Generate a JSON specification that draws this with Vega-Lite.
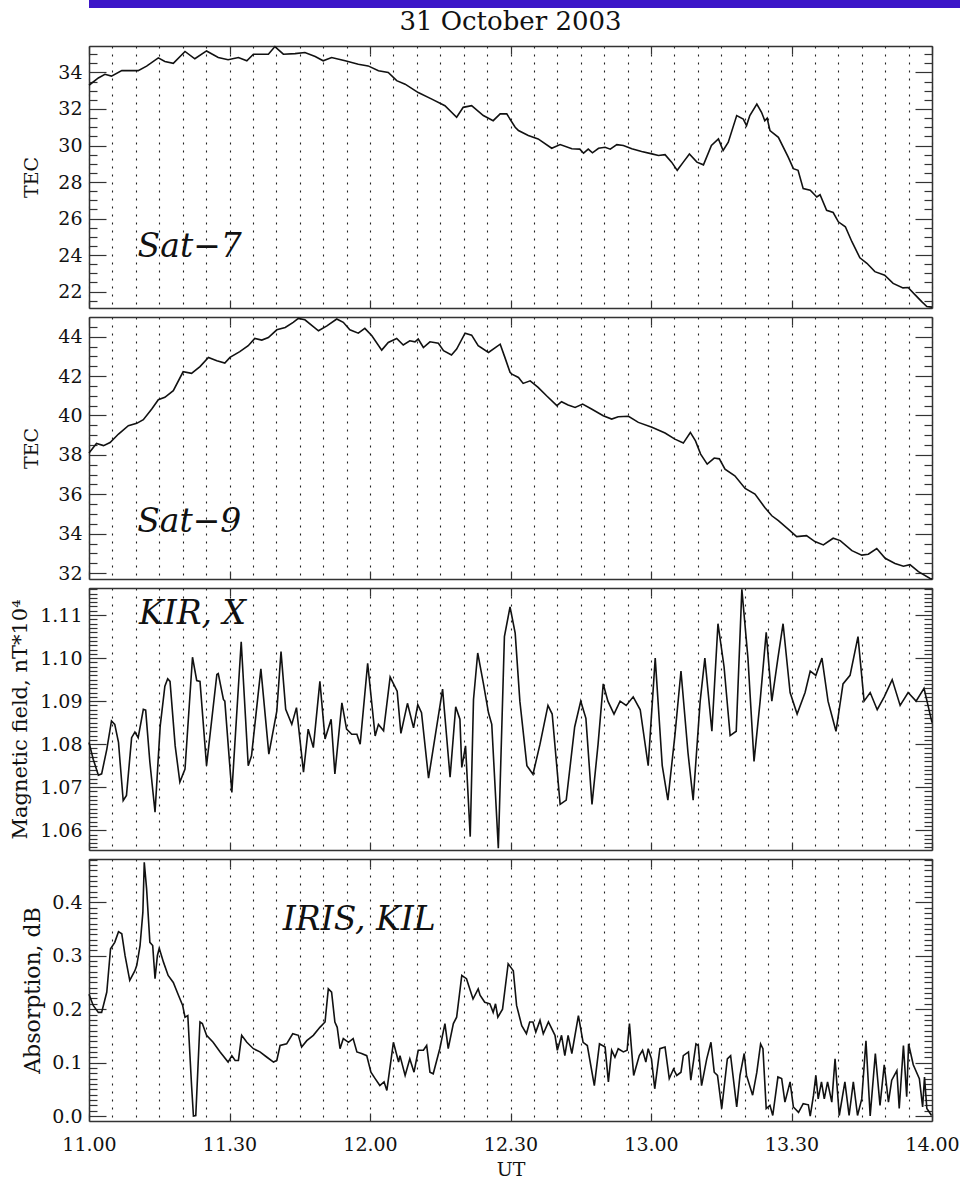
{
  "$schema": "https://vega.github.io/schema/vega-lite/v6.json",
  "padding": 0,
  "background": "white",
  "spacing": 0,
  "align": "none",
  "datasets": {
    "sat7": [
      {"t":0,"v":33.3},{"t":2,"v":33.7},{"t":3.4,"v":33.9},{"t":4.8,"v":33.8},{"t":7,"v":34.1},{"t":10.5,"v":34.1},{"t":12.3,"v":34.35},{"t":14.8,"v":34.8},{"t":16.2,"v":34.6},{"t":18,"v":34.5},{"t":20.5,"v":35.15},{"t":22.6,"v":34.75},{"t":25.1,"v":35.18},{"t":27.6,"v":34.82},{"t":29.7,"v":34.7},{"t":31.9,"v":34.82},{"t":33.7,"v":34.64},{"t":35.1,"v":35.0},{"t":38.3,"v":35.0},{"t":39.7,"v":35.42},{"t":41.5,"v":35.0},{"t":44,"v":35.03},{"t":46.1,"v":35.09},{"t":48.3,"v":34.87},{"t":50,"v":34.64},{"t":51.8,"v":34.82},{"t":54.7,"v":34.64},{"t":57.5,"v":34.45},{"t":59.6,"v":34.36},{"t":61.8,"v":34.09},{"t":63.9,"v":34.0},{"t":65.7,"v":33.55},{"t":67.5,"v":33.36},{"t":70.3,"v":32.9},{"t":73.2,"v":32.54},{"t":76,"v":32.18},{"t":78.5,"v":31.55},{"t":79.9,"v":32.09},{"t":81.7,"v":32.18},{"t":84.2,"v":31.64},{"t":86.3,"v":31.36},{"t":87.8,"v":31.73},{"t":89.2,"v":31.73},{"t":91,"v":31.0},{"t":91.7,"v":30.82},{"t":93.8,"v":30.55},{"t":95.9,"v":30.36},{"t":98.8,"v":29.85},{"t":100.6,"v":30.05},{"t":103.1,"v":29.82},{"t":104.8,"v":29.8},{"t":105.6,"v":29.58},{"t":106.6,"v":29.8},{"t":107.5,"v":29.6},{"t":108.8,"v":29.85},{"t":110.2,"v":29.9},{"t":111.3,"v":29.8},{"t":112.7,"v":30.05},{"t":114.1,"v":30.0},{"t":115.9,"v":29.82},{"t":118,"v":29.67},{"t":120.2,"v":29.54},{"t":121.6,"v":29.45},{"t":123,"v":29.5},{"t":124.4,"v":29.09},{"t":125.6,"v":28.64},{"t":126.9,"v":29.09},{"t":128.2,"v":29.54},{"t":129.8,"v":29.09},{"t":131.2,"v":28.94},{"t":132.9,"v":30.0},{"t":134.4,"v":30.36},{"t":135.4,"v":29.73},{"t":136.5,"v":30.18},{"t":138.3,"v":31.64},{"t":139.7,"v":31.45},{"t":140.4,"v":31.09},{"t":141.1,"v":31.64},{"t":142.6,"v":32.27},{"t":143.6,"v":31.82},{"t":144.3,"v":31.36},{"t":144.8,"v":31.5},{"t":145.4,"v":30.82},{"t":147.2,"v":30.45},{"t":149.3,"v":29.36},{"t":150.4,"v":28.73},{"t":151.4,"v":28.64},{"t":152.5,"v":27.64},{"t":154,"v":27.55},{"t":155.4,"v":27.18},{"t":156.1,"v":27.3},{"t":157.5,"v":26.45},{"t":158.9,"v":26.33},{"t":160,"v":25.82},{"t":161.5,"v":25.55},{"t":162.9,"v":24.73},{"t":164.6,"v":23.85},{"t":166.1,"v":23.55},{"t":167.8,"v":23.09},{"t":169.9,"v":22.9},{"t":171.7,"v":22.45},{"t":173.8,"v":22.2},{"t":174.9,"v":22.22},{"t":176.4,"v":21.82},{"t":177.8,"v":21.45},{"t":178.9,"v":21.18},{"t":180,"v":21.15}
    ],
    "sat9": [
      {"t":0,"v":38.1},{"t":1.6,"v":38.58},{"t":3.1,"v":38.47},{"t":4.5,"v":38.63},{"t":6.3,"v":39.06},{"t":8.4,"v":39.48},{"t":10.2,"v":39.6},{"t":11.6,"v":39.79},{"t":13.4,"v":40.33},{"t":14.8,"v":40.8},{"t":16.2,"v":40.92},{"t":18,"v":41.26},{"t":20.1,"v":42.22},{"t":21.9,"v":42.14},{"t":23.7,"v":42.48},{"t":25.5,"v":42.95},{"t":27.3,"v":42.78},{"t":29,"v":42.66},{"t":30.1,"v":42.95},{"t":32.2,"v":43.24},{"t":34,"v":43.54},{"t":35.4,"v":43.91},{"t":36.9,"v":43.83},{"t":38.3,"v":43.96},{"t":40.1,"v":44.35},{"t":41.9,"v":44.47},{"t":43.6,"v":44.73},{"t":44.7,"v":44.93},{"t":46.1,"v":44.86},{"t":49,"v":44.3},{"t":50.8,"v":44.55},{"t":52.9,"v":44.9},{"t":54.3,"v":44.73},{"t":55.7,"v":44.35},{"t":57.5,"v":44.18},{"t":58.9,"v":44.42},{"t":60.4,"v":44.05},{"t":62.5,"v":43.32},{"t":63.9,"v":43.71},{"t":65.7,"v":43.91},{"t":67.1,"v":43.58},{"t":68.5,"v":43.79},{"t":69.6,"v":43.74},{"t":70.3,"v":43.88},{"t":71.4,"v":43.45},{"t":72.8,"v":43.74},{"t":74.6,"v":43.67},{"t":75.7,"v":43.29},{"t":77.4,"v":43.07},{"t":78.5,"v":43.37},{"t":80.3,"v":44.18},{"t":81.7,"v":44.08},{"t":83.1,"v":43.54},{"t":85.3,"v":43.2},{"t":87.8,"v":43.62},{"t":88.8,"v":42.95},{"t":89.9,"v":42.19},{"t":90.3,"v":42.1},{"t":91.7,"v":41.93},{"t":92.7,"v":41.63},{"t":94.2,"v":41.76},{"t":95.9,"v":41.43},{"t":97.7,"v":41.0},{"t":99.9,"v":40.5},{"t":100.9,"v":40.7},{"t":102.3,"v":40.53},{"t":103.8,"v":40.41},{"t":105.4,"v":40.58},{"t":107.3,"v":40.33},{"t":109.8,"v":39.99},{"t":111.6,"v":39.82},{"t":113,"v":39.94},{"t":115.2,"v":39.96},{"t":117.3,"v":39.65},{"t":120.2,"v":39.4},{"t":123,"v":39.11},{"t":125.1,"v":38.8},{"t":126.9,"v":38.6},{"t":128.4,"v":39.14},{"t":129.5,"v":38.71},{"t":130.6,"v":38.04},{"t":132,"v":37.53},{"t":133.5,"v":37.84},{"t":134.6,"v":37.8},{"t":135.8,"v":37.28},{"t":137.9,"v":36.94},{"t":140.1,"v":36.3},{"t":142.2,"v":36.01},{"t":144.3,"v":35.33},{"t":145.8,"v":34.91},{"t":147.2,"v":34.66},{"t":149.3,"v":34.23},{"t":151.1,"v":33.85},{"t":153.2,"v":33.9},{"t":155,"v":33.6},{"t":156.8,"v":33.43},{"t":158.9,"v":33.77},{"t":160.4,"v":33.65},{"t":162.9,"v":33.14},{"t":165,"v":32.91},{"t":166.4,"v":32.96},{"t":168.2,"v":33.25},{"t":170,"v":32.75},{"t":172.1,"v":32.49},{"t":173.9,"v":32.35},{"t":175.3,"v":32.43},{"t":177.1,"v":32.07},{"t":179.6,"v":31.73},{"t":180,"v":31.7}
    ],
    "kir": [
      {"t":0,"v":1.0804},{"t":0.9,"v":1.0765},{"t":2,"v":1.0728},{"t":2.7,"v":1.0731},{"t":3.8,"v":1.0788},{"t":4.8,"v":1.0854},{"t":5.5,"v":1.0846},{"t":6.3,"v":1.0804},{"t":7.3,"v":1.0669},{"t":8,"v":1.0681},{"t":9.1,"v":1.0815},{"t":9.8,"v":1.0828},{"t":10.5,"v":1.0815},{"t":11.6,"v":1.0881},{"t":12.1,"v":1.0879},{"t":13,"v":1.0758},{"t":14.1,"v":1.0642},{"t":15.2,"v":1.0842},{"t":16.2,"v":1.0935},{"t":16.8,"v":1.0952},{"t":17.3,"v":1.0946},{"t":18.4,"v":1.0796},{"t":19.4,"v":1.0712},{"t":20.5,"v":1.0742},{"t":22.1,"v":1.1002},{"t":23,"v":1.0948},{"t":23.7,"v":1.0946},{"t":25.1,"v":1.075},{"t":27.3,"v":1.0962},{"t":27.6,"v":1.0964},{"t":28.7,"v":1.0904},{"t":29,"v":1.09},{"t":30.5,"v":1.0688},{"t":32.5,"v":1.1038},{"t":34,"v":1.075},{"t":34.7,"v":1.0773},{"t":36.7,"v":1.0975},{"t":38.4,"v":1.0777},{"t":40.1,"v":1.0877},{"t":41,"v":1.1015},{"t":42,"v":1.0881},{"t":43.3,"v":1.0846},{"t":44.3,"v":1.0885},{"t":45.8,"v":1.0735},{"t":46.8,"v":1.0835},{"t":47.9,"v":1.0792},{"t":49.3,"v":1.0946},{"t":50.4,"v":1.0812},{"t":51.7,"v":1.0858},{"t":52.5,"v":1.0731},{"t":54,"v":1.0896},{"t":55,"v":1.0835},{"t":56.1,"v":1.0823},{"t":57.2,"v":1.0823},{"t":57.9,"v":1.08},{"t":59.5,"v":1.0988},{"t":61.1,"v":1.0819},{"t":61.8,"v":1.0846},{"t":62.9,"v":1.0831},{"t":64.3,"v":1.0956},{"t":65.8,"v":1.0923},{"t":66.6,"v":1.0825},{"t":68,"v":1.0895},{"t":69.3,"v":1.0838},{"t":70.2,"v":1.0892},{"t":71,"v":1.0873},{"t":72.5,"v":1.0721},{"t":75.5,"v":1.0928},{"t":77.1,"v":1.0723},{"t":78.3,"v":1.0887},{"t":79.2,"v":1.0858},{"t":79.6,"v":1.0746},{"t":80.4,"v":1.0796},{"t":81.4,"v":1.0585},{"t":82.1,"v":1.0904},{"t":83,"v":1.1012},{"t":84.2,"v":1.0942},{"t":85.3,"v":1.0873},{"t":86,"v":1.0846},{"t":87.4,"v":1.0558},{"t":88.7,"v":1.105},{"t":89.9,"v":1.1119},{"t":91,"v":1.1058},{"t":92,"v":1.09},{"t":93.5,"v":1.075},{"t":94.8,"v":1.073},{"t":96.3,"v":1.08},{"t":98,"v":1.089},{"t":98.9,"v":1.087},{"t":100.6,"v":1.066},{"t":101.9,"v":1.067},{"t":103.7,"v":1.084},{"t":105,"v":1.09},{"t":106.1,"v":1.086},{"t":107.4,"v":1.066},{"t":108.7,"v":1.08},{"t":109.8,"v":1.094},{"t":110.8,"v":1.09},{"t":112.1,"v":1.087},{"t":113.4,"v":1.09},{"t":114.7,"v":1.089},{"t":116.2,"v":1.091},{"t":117.7,"v":1.088},{"t":119.4,"v":1.075},{"t":120.9,"v":1.1},{"t":122.4,"v":1.075},{"t":123.6,"v":1.067},{"t":125.1,"v":1.082},{"t":126.4,"v":1.097},{"t":127.9,"v":1.078},{"t":129,"v":1.067},{"t":130.5,"v":1.09},{"t":131.5,"v":1.1},{"t":133,"v":1.083},{"t":134.3,"v":1.108},{"t":135.6,"v":1.098},{"t":136.9,"v":1.082},{"t":138.2,"v":1.083},{"t":139.4,"v":1.116},{"t":140.7,"v":1.1},{"t":142,"v":1.076},{"t":143.3,"v":1.09},{"t":144.6,"v":1.106},{"t":145.8,"v":1.09},{"t":147.1,"v":1.1},{"t":148.2,"v":1.108},{"t":149.7,"v":1.092},{"t":151.2,"v":1.087},{"t":152.9,"v":1.092},{"t":154,"v":1.097},{"t":155.2,"v":1.096},{"t":156.5,"v":1.1},{"t":157.8,"v":1.09},{"t":159.5,"v":1.083},{"t":161,"v":1.094},{"t":162.5,"v":1.096},{"t":164.2,"v":1.105},{"t":165.5,"v":1.09},{"t":166.8,"v":1.092},{"t":168.3,"v":1.088},{"t":169.8,"v":1.091},{"t":171.5,"v":1.095},{"t":173.2,"v":1.089},{"t":174.9,"v":1.092},{"t":176.6,"v":1.09},{"t":178.3,"v":1.093},{"t":180,"v":1.085}
    ],
    "iris": [
      {"t":0,"v":0.228},{"t":0.9,"v":0.207},{"t":2,"v":0.194},{"t":2.7,"v":0.194},{"t":3.8,"v":0.232},{"t":4.6,"v":0.313},{"t":5.5,"v":0.325},{"t":6.3,"v":0.345},{"t":7,"v":0.341},{"t":7.7,"v":0.3},{"t":8.7,"v":0.254},{"t":9.8,"v":0.272},{"t":10.2,"v":0.282},{"t":10.9,"v":0.319},{"t":11.5,"v":0.381},{"t":11.8,"v":0.475},{"t":12.3,"v":0.425},{"t":13,"v":0.325},{"t":13.6,"v":0.319},{"t":14.1,"v":0.257},{"t":14.6,"v":0.3},{"t":15,"v":0.314},{"t":15.9,"v":0.288},{"t":16.9,"v":0.263},{"t":18,"v":0.25},{"t":19.1,"v":0.226},{"t":20,"v":0.207},{"t":20.5,"v":0.185},{"t":21.1,"v":0.188},{"t":21.9,"v":0.057},{"t":22.3,"v":0.0},{"t":22.8,"v":0.001},{"t":23.7,"v":0.176},{"t":24.2,"v":0.173},{"t":25.1,"v":0.151},{"t":26.5,"v":0.138},{"t":28,"v":0.12},{"t":29.7,"v":0.101},{"t":30.5,"v":0.113},{"t":31.2,"v":0.104},{"t":31.9,"v":0.104},{"t":32.6,"v":0.151},{"t":33.7,"v":0.138},{"t":35.1,"v":0.126},{"t":36.5,"v":0.12},{"t":38,"v":0.11},{"t":39.4,"v":0.101},{"t":40.1,"v":0.104},{"t":40.8,"v":0.132},{"t":42.2,"v":0.135},{"t":43.5,"v":0.154},{"t":44.7,"v":0.151},{"t":45.4,"v":0.129},{"t":46.5,"v":0.141},{"t":47.9,"v":0.151},{"t":49.3,"v":0.166},{"t":50.4,"v":0.176},{"t":51.1,"v":0.238},{"t":51.8,"v":0.232},{"t":52.5,"v":0.176},{"t":53,"v":0.166},{"t":53.6,"v":0.126},{"t":54.3,"v":0.145},{"t":55.4,"v":0.138},{"t":56.4,"v":0.145},{"t":57.2,"v":0.12},{"t":58.2,"v":0.117},{"t":59.3,"v":0.113},{"t":60.2,"v":0.082},{"t":61.1,"v":0.07},{"t":62.1,"v":0.057},{"t":63,"v":0.064},{"t":63.6,"v":0.048},{"t":65,"v":0.138},{"t":66.1,"v":0.101},{"t":66.4,"v":0.113},{"t":67.5,"v":0.076},{"t":68.5,"v":0.107},{"t":69.4,"v":0.082},{"t":70.3,"v":0.123},{"t":71.4,"v":0.123},{"t":72.1,"v":0.132},{"t":72.8,"v":0.082},{"t":73.5,"v":0.079},{"t":74.9,"v":0.126},{"t":76,"v":0.173},{"t":76.7,"v":0.126},{"t":77.8,"v":0.173},{"t":78.5,"v":0.185},{"t":79.6,"v":0.263},{"t":80.6,"v":0.257},{"t":82,"v":0.219},{"t":83.1,"v":0.238},{"t":83.5,"v":0.226},{"t":84.5,"v":0.213},{"t":85.6,"v":0.21},{"t":86.3,"v":0.194},{"t":86.8,"v":0.21},{"t":87.3,"v":0.185},{"t":88.3,"v":0.2},{"t":89.5,"v":0.285},{"t":90.6,"v":0.272},{"t":91.3,"v":0.207},{"t":92.4,"v":0.169},{"t":93.4,"v":0.154},{"t":94.1,"v":0.176},{"t":94.8,"v":0.176},{"t":95.4,"v":0.157},{"t":96.3,"v":0.179},{"t":97,"v":0.154},{"t":98.1,"v":0.176},{"t":99.5,"v":0.151},{"t":100,"v":0.123},{"t":100.9,"v":0.151},{"t":101.6,"v":0.113},{"t":102.3,"v":0.151},{"t":103.1,"v":0.117},{"t":104.5,"v":0.188},{"t":105.5,"v":0.138},{"t":106.4,"v":0.132},{"t":107.9,"v":0.057},{"t":109,"v":0.135},{"t":110.2,"v":0.129},{"t":110.9,"v":0.064},{"t":111.6,"v":0.123},{"t":112.3,"v":0.11},{"t":113,"v":0.126},{"t":114.1,"v":0.12},{"t":114.9,"v":0.123},{"t":115.4,"v":0.173},{"t":116.3,"v":0.076},{"t":117.5,"v":0.113},{"t":118.2,"v":0.123},{"t":118.9,"v":0.101},{"t":119.4,"v":0.126},{"t":120.1,"v":0.107},{"t":120.8,"v":0.051},{"t":121.9,"v":0.126},{"t":123,"v":0.129},{"t":123.9,"v":0.07},{"t":124.8,"v":0.088},{"t":125.5,"v":0.076},{"t":126.4,"v":0.082},{"t":126.9,"v":0.113},{"t":128,"v":0.12},{"t":128.5,"v":0.067},{"t":129.6,"v":0.135},{"t":130.1,"v":0.132},{"t":130.8,"v":0.057},{"t":131.9,"v":0.107},{"t":132.8,"v":0.138},{"t":133.5,"v":0.082},{"t":134.2,"v":0.076},{"t":135.1,"v":0.014},{"t":136.3,"v":0.107},{"t":137,"v":0.113},{"t":138.3,"v":0.017},{"t":139,"v":0.076},{"t":139.9,"v":0.117},{"t":140.4,"v":0.076},{"t":141.7,"v":0.039},{"t":142.6,"v":0.082},{"t":143.4,"v":0.135},{"t":143.9,"v":0.126},{"t":144.6,"v":0.014},{"t":145.4,"v":0.02},{"t":146,"v":0.001},{"t":147.1,"v":0.073},{"t":147.9,"v":0.07},{"t":148.6,"v":0.026},{"t":149.7,"v":0.064},{"t":150.4,"v":0.017},{"t":151.5,"v":0.007},{"t":152.5,"v":0.023},{"t":153.6,"v":0.021},{"t":154,"v":0.0},{"t":154.7,"v":0.039},{"t":155.2,"v":0.076},{"t":155.7,"v":0.032},{"t":156.4,"v":0.064},{"t":157,"v":0.032},{"t":157.7,"v":0.064},{"t":158.6,"v":0.026},{"t":159.3,"v":0.107},{"t":160.2,"v":0.001},{"t":161.4,"v":0.064},{"t":162.3,"v":0.001},{"t":163.2,"v":0.064},{"t":164.1,"v":0.001},{"t":165,"v":0.032},{"t":165.9,"v":0.141},{"t":166.8,"v":0.0},{"t":167.9,"v":0.117},{"t":168.9,"v":0.02},{"t":169.8,"v":0.096},{"t":170.7,"v":0.026},{"t":171.4,"v":0.067},{"t":172.5,"v":0.085},{"t":173,"v":0.014},{"t":173.9,"v":0.132},{"t":174.6,"v":0.036},{"t":175,"v":0.135},{"t":176,"v":0.096},{"t":177.3,"v":0.07},{"t":178,"v":0.017},{"t":178.4,"v":0.073},{"t":178.9,"v":0.014},{"t":179.9,"v":0.001}
    ]
  },
  "vconcat": [
    {
      "width": 871,
      "height": 8,
      "data": {"values": [{"label": ""}]},
      "mark": {"type": "text", "text": "", "fontSize": 1},
      "encoding": {},
      "view": {"fill": "#3c16c8", "stroke": null}
    },
    {
      "spacing": 9,
      "bounds": "flush",
      "vconcat": [
        {
          "width": 843,
          "height": 262,
          "title": {"text": "31 October 2003", "font": "DejaVu Serif", "fontSize": 26, "fontWeight": "normal", "color": "#111", "offset": 8.5},
          "data": {"name": "sat7"},
          "layer": [
            {
              "mark": {"type": "line", "color": "#111", "strokeWidth": 1.6},
              "encoding": {
                "x": {"field": "t", "type": "quantitative", "scale": {"domain": [0, 180], "nice": false, "zero": false},
                  "axis": {"orient": "bottom", "values": [0,5,10,15,20,25,30,35,40,45,50,55,60,65,70,75,80,85,90,95,100,105,110,115,120,125,130,135,140,145,150,155,160,165,170,175,180], "grid": true, "gridDash": [2, 6], "gridColor": "#222", "gridWidth": 1.1, "tickSize": -8, "tickOpacity": {"condition": {"test": "datum.value % 30 === 0", "value": 1}, "value": 0}, "labels": false, "title": null}},
                "y": {"field": "v", "type": "quantitative", "scale": {"domain": [21.1, 35.45], "nice": false, "zero": false},
                  "axis": {"orient": "left", "values": [21.5,22,22.5,23,23.5,24,24.5,25,25.5,26,26.5,27,27.5,28,28.5,29,29.5,30,30.5,31,31.5,32,32.5,33,33.5,34,34.5,35], "tickSize": -17, "tickDash": {"condition": {"test": "datum.value % 2 === 0", "value": [100, 1]}, "value": [8, 100]}, "labelExpr": "datum.value % 2 === 0 ? format(datum.value, 'd') : ''", "labelPadding": 24, "minExtent": 89, "title": "TEC", "titleFontSize": 19, "titleX": -58, "titleY": 131, "titleAngle": 270, "titleAlign": "center", "titleBaseline": "middle"}}
              }
            },
            {
              "mark": {"type": "line", "opacity": 0},
              "encoding": {
                "x": {"field": "t", "type": "quantitative", "axis": {"orient": "top", "values": [0,5,10,15,20,25,30,35,40,45,50,55,60,65,70,75,80,85,90,95,100,105,110,115,120,125,130,135,140,145,150,155,160,165,170,175,180], "tickSize": -8, "tickOpacity": {"condition": {"test": "datum.value % 30 === 0", "value": 1}, "value": 0}, "labels": false, "title": null}},
                "y": {"field": "v", "type": "quantitative", "axis": {"orient": "right", "values": [21.5,22,22.5,23,23.5,24,24.5,25,25.5,26,26.5,27,27.5,28,28.5,29,29.5,30,30.5,31,31.5,32,32.5,33,33.5,34,34.5,35], "tickSize": -17, "tickDash": {"condition": {"test": "datum.value % 2 === 0", "value": [100, 1]}, "value": [8, 100]}, "labels": false, "title": null}}
              }
            },
            {
              "data": {"values": [{"label": "Sat−7"}]},
              "mark": {"type": "text", "font": "DejaVu Serif", "fontStyle": "italic", "fontSize": 33, "align": "center", "baseline": "alphabetic", "color": "#111"},
              "encoding": {
                "x": {"datum": 21.5, "type": "quantitative", "axis": null},
                "y": {"datum": 23.9, "type": "quantitative", "axis": null},
                "text": {"field": "label"}
              }
            }
          ],
          "resolve": {"axis": {"x": "independent", "y": "independent"}}
        },
        {
          "width": 843,
          "height": 262,
          "data": {"name": "sat9"},
          "layer": [
            {
              "mark": {"type": "line", "color": "#111", "strokeWidth": 1.6},
              "encoding": {
                "x": {"field": "t", "type": "quantitative", "scale": {"domain": [0, 180], "nice": false, "zero": false},
                  "axis": {"orient": "bottom", "values": [0,5,10,15,20,25,30,35,40,45,50,55,60,65,70,75,80,85,90,95,100,105,110,115,120,125,130,135,140,145,150,155,160,165,170,175,180], "grid": true, "gridDash": [2, 6], "gridColor": "#222", "gridWidth": 1.1, "tickSize": -8, "tickOpacity": {"condition": {"test": "datum.value % 30 === 0", "value": 1}, "value": 0}, "labels": false, "title": null}},
                "y": {"field": "v", "type": "quantitative", "scale": {"domain": [31.7, 45.0], "nice": false, "zero": false},
                  "axis": {"orient": "left", "values": [32,32.5,33,33.5,34,34.5,35,35.5,36,36.5,37,37.5,38,38.5,39,39.5,40,40.5,41,41.5,42,42.5,43,43.5,44,44.5], "tickSize": -17, "tickDash": {"condition": {"test": "datum.value % 2 === 0", "value": [100, 1]}, "value": [8, 100]}, "labelExpr": "datum.value % 2 === 0 ? format(datum.value, 'd') : ''", "labelPadding": 24, "minExtent": 89, "title": "TEC", "titleFontSize": 19, "titleX": -58, "titleY": 131, "titleAngle": 270, "titleAlign": "center", "titleBaseline": "middle"}}
              }
            },
            {
              "mark": {"type": "line", "opacity": 0},
              "encoding": {
                "x": {"field": "t", "type": "quantitative", "axis": {"orient": "top", "values": [0,5,10,15,20,25,30,35,40,45,50,55,60,65,70,75,80,85,90,95,100,105,110,115,120,125,130,135,140,145,150,155,160,165,170,175,180], "tickSize": -8, "tickOpacity": {"condition": {"test": "datum.value % 30 === 0", "value": 1}, "value": 0}, "labels": false, "title": null}},
                "y": {"field": "v", "type": "quantitative", "axis": {"orient": "right", "values": [32,32.5,33,33.5,34,34.5,35,35.5,36,36.5,37,37.5,38,38.5,39,39.5,40,40.5,41,41.5,42,42.5,43,43.5,44,44.5], "tickSize": -17, "tickDash": {"condition": {"test": "datum.value % 2 === 0", "value": [100, 1]}, "value": [8, 100]}, "labels": false, "title": null}}
              }
            },
            {
              "data": {"values": [{"label": "Sat−9"}]},
              "mark": {"type": "text", "font": "DejaVu Serif", "fontStyle": "italic", "fontSize": 33, "align": "center", "baseline": "alphabetic", "color": "#111"},
              "encoding": {
                "x": {"datum": 21.4, "type": "quantitative", "axis": null},
                "y": {"datum": 34.07, "type": "quantitative", "axis": null},
                "text": {"field": "label"}
              }
            }
          ],
          "resolve": {"axis": {"x": "independent", "y": "independent"}}
        },
        {
          "width": 843,
          "height": 262,
          "data": {"name": "kir"},
          "layer": [
            {
              "mark": {"type": "line", "color": "#111", "strokeWidth": 1.6},
              "encoding": {
                "x": {"field": "t", "type": "quantitative", "scale": {"domain": [0, 180], "nice": false, "zero": false},
                  "axis": {"orient": "bottom", "values": [0,5,10,15,20,25,30,35,40,45,50,55,60,65,70,75,80,85,90,95,100,105,110,115,120,125,130,135,140,145,150,155,160,165,170,175,180], "grid": true, "gridDash": [2, 6], "gridColor": "#222", "gridWidth": 1.1, "tickSize": -8, "tickOpacity": {"condition": {"test": "datum.value % 30 === 0", "value": 1}, "value": 0}, "labels": false, "title": null}},
                "y": {"field": "v", "type": "quantitative", "scale": {"domain": [1.0554, 1.1163], "nice": false, "zero": false},
                  "axis": {"orient": "left", "values": [1.056,1.057,1.058,1.059,1.06,1.061,1.062,1.063,1.064,1.065,1.066,1.067,1.068,1.069,1.07,1.071,1.072,1.073,1.074,1.075,1.076,1.077,1.078,1.079,1.08,1.081,1.082,1.083,1.084,1.085,1.086,1.087,1.088,1.089,1.09,1.091,1.092,1.093,1.094,1.095,1.096,1.097,1.098,1.099,1.1,1.101,1.102,1.103,1.104,1.105,1.106,1.107,1.108,1.109,1.11,1.111,1.112,1.113,1.114,1.115,1.116], "tickSize": -17, "tickDash": {"condition": {"test": "abs(datum.value * 100 - round(datum.value * 100)) < 0.01", "value": [100, 1]}, "value": [8, 100]}, "labelExpr": "abs(datum.value * 100 - round(datum.value * 100)) < 0.01 ? format(datum.value, '.2f') : ''", "labelPadding": 24, "minExtent": 89, "title": "Magnetic field, nT*10⁴", "titleFontSize": 21, "titleX": -69, "titleY": 131, "titleAngle": 270, "titleAlign": "center", "titleBaseline": "middle"}}
              }
            },
            {
              "mark": {"type": "line", "opacity": 0},
              "encoding": {
                "x": {"field": "t", "type": "quantitative", "axis": {"orient": "top", "values": [0,5,10,15,20,25,30,35,40,45,50,55,60,65,70,75,80,85,90,95,100,105,110,115,120,125,130,135,140,145,150,155,160,165,170,175,180], "tickSize": -8, "tickOpacity": {"condition": {"test": "datum.value % 30 === 0", "value": 1}, "value": 0}, "labels": false, "title": null}},
                "y": {"field": "v", "type": "quantitative", "axis": {"orient": "right", "values": [1.056,1.057,1.058,1.059,1.06,1.061,1.062,1.063,1.064,1.065,1.066,1.067,1.068,1.069,1.07,1.071,1.072,1.073,1.074,1.075,1.076,1.077,1.078,1.079,1.08,1.081,1.082,1.083,1.084,1.085,1.086,1.087,1.088,1.089,1.09,1.091,1.092,1.093,1.094,1.095,1.096,1.097,1.098,1.099,1.1,1.101,1.102,1.103,1.104,1.105,1.106,1.107,1.108,1.109,1.11,1.111,1.112,1.113,1.114,1.115,1.116], "tickSize": -17, "tickDash": {"condition": {"test": "abs(datum.value * 100 - round(datum.value * 100)) < 0.01", "value": [100, 1]}, "value": [8, 100]}, "labels": false, "title": null}}
              }
            },
            {
              "data": {"values": [{"label": "KIR, X"}]},
              "mark": {"type": "text", "font": "DejaVu Serif", "fontStyle": "italic", "fontSize": 33, "align": "center", "baseline": "alphabetic", "color": "#111"},
              "encoding": {
                "x": {"datum": 22.1, "type": "quantitative", "axis": null},
                "y": {"datum": 1.1079, "type": "quantitative", "axis": null},
                "text": {"field": "label"}
              }
            }
          ],
          "resolve": {"axis": {"x": "independent", "y": "independent"}}
        },
        {
          "width": 843,
          "height": 262,
          "data": {"name": "iris"},
          "layer": [
            {
              "mark": {"type": "line", "color": "#111", "strokeWidth": 1.6},
              "encoding": {
                "x": {"field": "t", "type": "quantitative", "scale": {"domain": [0, 180], "nice": false, "zero": false},
                  "axis": {"orient": "bottom", "values": [0,5,10,15,20,25,30,35,40,45,50,55,60,65,70,75,80,85,90,95,100,105,110,115,120,125,130,135,140,145,150,155,160,165,170,175,180], "grid": true, "gridDash": [2, 6], "gridColor": "#222", "gridWidth": 1.1, "tickSize": -8, "tickOpacity": {"condition": {"test": "datum.value % 30 === 0", "value": 1}, "value": 0}, "labels": true, "labelExpr": "datum.value % 30 === 0 ? format(11 + floor(datum.value / 60), 'd') + '.' + format(datum.value % 60, '02d') : ''", "labelPadding": 22, "title": "UT", "titlePadding": 6}},
                "y": {"field": "v", "type": "quantitative", "scale": {"domain": [-0.0093, 0.481], "nice": false, "zero": false},
                  "axis": {"orient": "left", "values": [0,0.01,0.02,0.03,0.04,0.05,0.06,0.07,0.08,0.09,0.1,0.11,0.12,0.13,0.14,0.15,0.16,0.17,0.18,0.19,0.2,0.21,0.22,0.23,0.24,0.25,0.26,0.27,0.28,0.29,0.3,0.31,0.32,0.33,0.34,0.35,0.36,0.37,0.38,0.39,0.4,0.41,0.42,0.43,0.44,0.45,0.46,0.47,0.48], "tickSize": -17, "tickDash": {"condition": {"test": "abs(datum.value * 10 - round(datum.value * 10)) < 0.01", "value": [100, 1]}, "value": [8, 100]}, "labelExpr": "abs(datum.value * 10 - round(datum.value * 10)) < 0.01 ? format(datum.value, '.1f') : ''", "labelPadding": 24, "minExtent": 89, "title": "Absorption, dB", "titleFontSize": 22, "titleX": -57, "titleY": 131, "titleAngle": 270, "titleAlign": "center", "titleBaseline": "middle"}}
              }
            },
            {
              "mark": {"type": "line", "opacity": 0},
              "encoding": {
                "x": {"field": "t", "type": "quantitative", "axis": {"orient": "top", "values": [0,5,10,15,20,25,30,35,40,45,50,55,60,65,70,75,80,85,90,95,100,105,110,115,120,125,130,135,140,145,150,155,160,165,170,175,180], "tickSize": -8, "tickOpacity": {"condition": {"test": "datum.value % 30 === 0", "value": 1}, "value": 0}, "labels": false, "title": null}},
                "y": {"field": "v", "type": "quantitative", "axis": {"orient": "right", "values": [0,0.01,0.02,0.03,0.04,0.05,0.06,0.07,0.08,0.09,0.1,0.11,0.12,0.13,0.14,0.15,0.16,0.17,0.18,0.19,0.2,0.21,0.22,0.23,0.24,0.25,0.26,0.27,0.28,0.29,0.3,0.31,0.32,0.33,0.34,0.35,0.36,0.37,0.38,0.39,0.4,0.41,0.42,0.43,0.44,0.45,0.46,0.47,0.48], "tickSize": -17, "tickDash": {"condition": {"test": "abs(datum.value * 10 - round(datum.value * 10)) < 0.01", "value": [100, 1]}, "value": [8, 100]}, "labels": false, "title": null}}
              }
            },
            {
              "data": {"values": [{"label": "IRIS, KIL"}]},
              "mark": {"type": "text", "font": "DejaVu Serif", "fontStyle": "italic", "fontSize": 33, "align": "center", "baseline": "alphabetic", "color": "#111"},
              "encoding": {
                "x": {"datum": 57.7, "type": "quantitative", "axis": null},
                "y": {"datum": 0.349, "type": "quantitative", "axis": null},
                "text": {"field": "label"}
              }
            }
          ],
          "resolve": {"axis": {"x": "independent", "y": "independent"}}
        }
      ]
    }
  ],
  "config": {
    "view": {"stroke": null},
    "axis": {"domainColor": "#333", "domainWidth": 1.5, "tickColor": "#333", "tickWidth": 1.2, "labelColor": "#111", "labelFont": "DejaVu Serif", "labelFontSize": 19, "titleFont": "DejaVu Serif", "titleFontSize": 19, "titleFontWeight": "normal", "titleColor": "#111", "grid": false, "labelOverlap": false, "labelFlush": false, "labelBound": false}
  }
}
